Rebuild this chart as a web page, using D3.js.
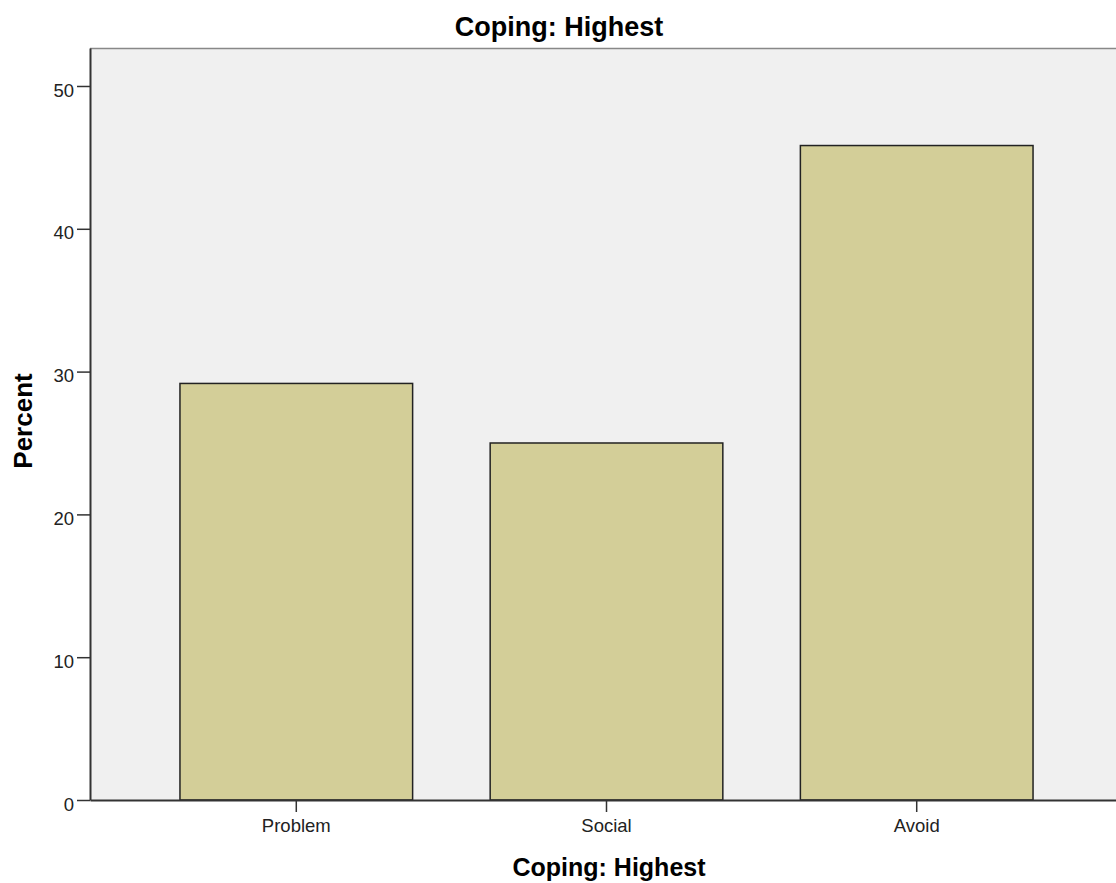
<!DOCTYPE html>
<html>
<head>
<meta charset="utf-8">
<script src="https://cdn.jsdelivr.net/npm/d3@7"></script>
<style>
  body { margin: 0; background: #fff; }
  svg { display: block; font-family: "Liberation Sans", Arial, sans-serif; }
</style>
</head>
<body>
<div id="chart"></div>
<script>
// Données
const categories = ["Problem", "Social", "Avoid"];
const percents = [29.17, 25.0, 45.83];
const yTicks = [0, 10, 20, 30, 40, 50];

const width = 1116;
const height = 883;

const svg = d3.select("#chart")
    .append("svg")
    .attr("width", width)
    .attr("height", height);

// Échelles (le cadre continue un peu au-delà du bord droit)
const x = d3.scaleBand()
    .domain(categories)
    .range([90, 1123])
    .paddingInner(0.25)
    .paddingOuter(0.29);

const y = d3.scaleLinear()
    .domain([0, 52.66])
    .range([800, 48]);

// Fond du graphique
svg.append("rect")
    .attr("x", 90)
    .attr("y", 48)
    .attr("width", 1040)
    .attr("height", 752)
    .attr("fill", "#f0f0f0");

svg.append("line")
    .attr("x1", 90).attr("x2", 1116)
    .attr("y1", 48.5).attr("y2", 48.5)
    .attr("stroke", "#888")
    .attr("stroke-width", 1.5);

// Barres
svg.selectAll("rect.bar")
    .data(percents)
    .enter()
    .append("rect")
    .attr("class", "bar")
    .attr("x", (d, i) => x(categories[i]))
    .attr("y", d => y(d))
    .attr("width", x.bandwidth())
    .attr("height", d => y(0) - y(d))
    .attr("fill", "#d3ce98")
    .attr("stroke", "#222")
    .attr("stroke-width", 1.5);

// Axes
const yAxis = svg.append("g")
    .attr("transform", "translate(90,0)")
    .call(d3.axisLeft(y).tickValues(yTicks).tickSize(13).tickPadding(3).tickSizeOuter(0));

const xAxis = svg.append("g")
    .attr("transform", "translate(0,800)")
    .call(d3.axisBottom(x).tickSize(12).tickPadding(7).tickSizeOuter(0));

[yAxis, xAxis].forEach(function(g) {
    g.select(".domain").attr("stroke", "#333").attr("stroke-width", 2);
    g.selectAll(".tick line").attr("stroke", "#333").attr("stroke-width", 1.5);
    g.selectAll(".tick text")
        .attr("fill", "#222")
        .style("font-size", "18.5px")
        .style("font-family", "'Liberation Sans', Arial, sans-serif");
});
yAxis.selectAll(".tick text").attr("dy", "0.55em");

// Titres
svg.append("text")
    .attr("x", 559)
    .attr("y", 36)
    .attr("text-anchor", "middle")
    .style("font-size", "27px")
    .style("font-weight", "bold")
    .text("Coping: Highest");

svg.append("text")
    .attr("x", 609)
    .attr("y", 876)
    .attr("text-anchor", "middle")
    .style("font-size", "25px")
    .style("font-weight", "bold")
    .text("Coping: Highest");

svg.append("text")
    .attr("transform", "translate(32,421) rotate(-90)")
    .attr("text-anchor", "middle")
    .style("font-size", "26px")
    .style("font-weight", "bold")
    .text("Percent");
</script>
</body>
</html>
